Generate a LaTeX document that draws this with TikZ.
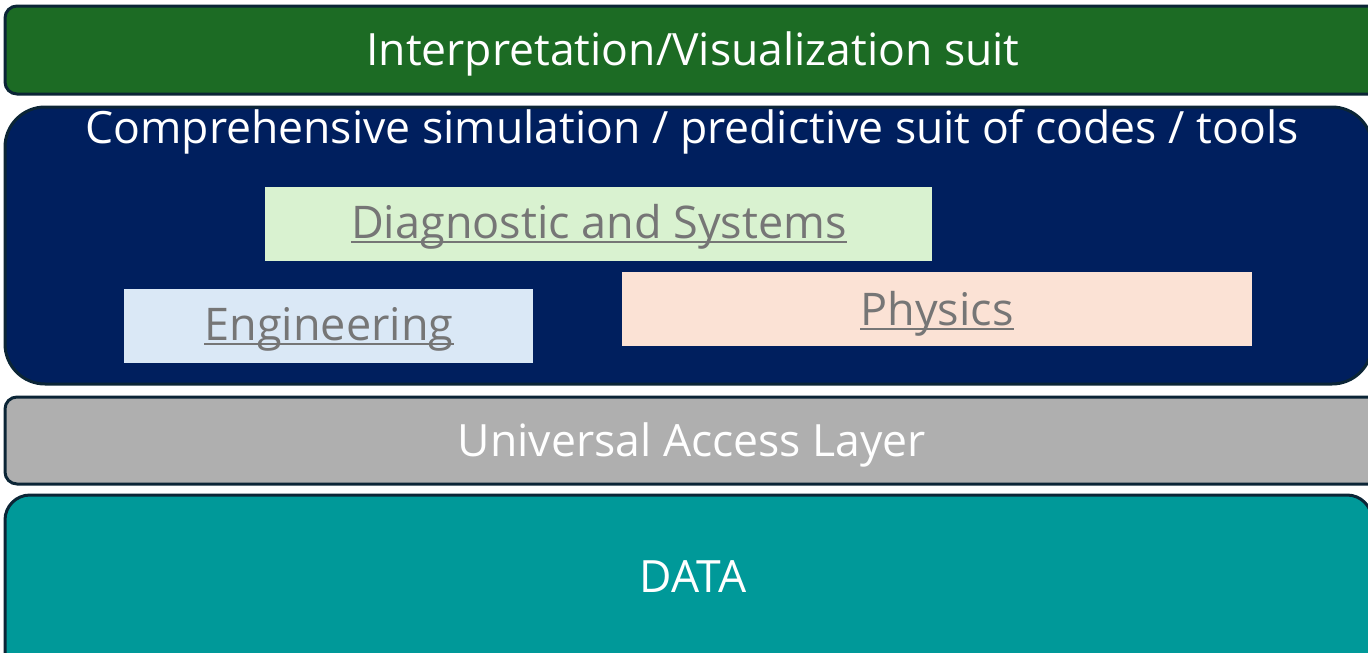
\documentclass[tikz,border=0pt]{standalone}
\usepackage{fontspec}
\setmainfont{Open Sans}
\definecolor{edge}{HTML}{0B2536}
\definecolor{vizgreen}{HTML}{1C6B24}
\definecolor{simnavy}{HTML}{001F5E}
\definecolor{uagray}{HTML}{AFAFAF}
\definecolor{datateal}{HTML}{009999}
\definecolor{diagfill}{HTML}{D9F2D0}
\definecolor{engfill}{HTML}{DAE8F6}
\definecolor{physfill}{HTML}{FBE2D5}
\definecolor{labelgray}{HTML}{767676}
\tikzset{
  layer/.style={draw=edge, line width=3pt},
  bigtext/.style={text=white, anchor=base, inner sep=0pt, font=\fontsize{44.5}{50}\selectfont},
  domaintext/.style={text=labelgray, anchor=base, inner sep=0pt, font=\fontsize{45}{50}\selectfont},
  uline/.style={draw=labelgray, line width=1.5pt}
}
\begin{document}
\begin{tikzpicture}[x=1pt,y=-1pt]
\useasboundingbox (0,0) rectangle (1368,653);
% layers of the stack
\draw[layer, fill=vizgreen, rounded corners=12pt] (5,6) rectangle (1395,94);
\draw[layer, fill=simnavy, rounded corners=40pt] (5,107) rectangle (1372,384);
\draw[layer, fill=uagray, rounded corners=12pt] (5,397) rectangle (1395,484);
\draw[layer, fill=datateal, rounded corners=25pt] (5,495) rectangle (1372,700);
% domain boxes inside the simulation layer
\fill[diagfill] (265,187) rectangle (932,261);
\fill[engfill] (124,289) rectangle (533,363);
\fill[physfill] (622,272) rectangle (1252,346);
% labels
\node[bigtext] (viz) at (693,65) {Interpretation/Visualization suit};
\node[bigtext] (sim) at (692,143) {Comprehensive simulation / predictive suit of codes / tools};
\node[bigtext] (ual) at (692,456) {Universal Access Layer};
\node[bigtext] (data) at (693,592) {DATA};
\node[domaintext] (diag) at (599,238) {Diagnostic and Systems};
\node[domaintext] (eng) at (329,340) {Engineering};
\node[domaintext] (phys) at (937,325) {Physics};
\foreach \n in {diag,eng,phys}
  \draw[uline] ([yshift=-4pt]\n.base west) -- ([yshift=-4pt]\n.base east);
\end{tikzpicture}
\end{document}
